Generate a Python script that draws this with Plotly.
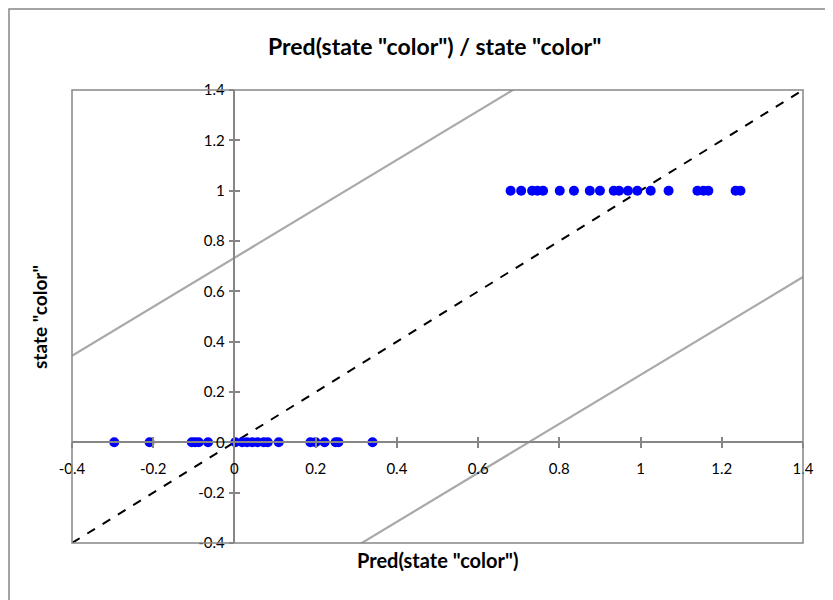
import plotly.graph_objects as go

# ---- data ----
pred_state0 = [-0.296, -0.209, -0.105, -0.097, -0.088, -0.065, 0.002, 0.019, 0.031,
               0.044, 0.057, 0.072, 0.082, 0.109, 0.187, 0.200, 0.222, 0.249, 0.256, 0.340]
pred_state1 = [0.680, 0.706, 0.733, 0.746, 0.760, 0.801, 0.836, 0.875, 0.900, 0.934,
               0.947, 0.969, 0.992, 1.025, 1.069, 1.140, 1.155, 1.167, 1.234, 1.246]
state_values = [0, 1]
band_slope = 0.973
band_upper_intercept = 0.733
band_lower_intercept = -0.705
axis_range = [-0.4, 1.4]
tick_vals = [-0.4, -0.2, 0, 0.2, 0.4, 0.6, 0.8, 1, 1.2, 1.4]
tick_text = ["-0.4", "-0.2", "0", "0.2", "0.4", "0.6", "0.8", "1", "1.2", "1.4"]

FONT = "Lato, 'Open Sans', sans-serif"
AXC = "#868686"

# plot area in page pixels (page has an 8px body offset)
PL, PR, PT, PB = 72, 803, 90, 543
OFF = 8
W, H = 833, 600
PW, PH = PR - PL, PB - PT

xs = pred_state0 + pred_state1
ys = [state_values[0]] * len(pred_state0) + [state_values[1]] * len(pred_state1)

fig = go.Figure()

line_x = axis_range
fig.add_trace(go.Scatter(x=line_x, y=[band_slope * v + band_upper_intercept for v in line_x],
                         mode="lines", line=dict(color="#A9A9A9", width=2.2),
                         showlegend=False, hoverinfo="skip"))
fig.add_trace(go.Scatter(x=line_x, y=[band_slope * v + band_lower_intercept for v in line_x],
                         mode="lines", line=dict(color="#A9A9A9", width=2.2),
                         showlegend=False, hoverinfo="skip"))
fig.add_trace(go.Scatter(x=line_x, y=line_x, mode="lines",
                         line=dict(color="black", width=2, dash="dash"),
                         showlegend=False, hoverinfo="skip"))
fig.add_trace(go.Scatter(x=xs, y=ys, mode="markers",
                         marker=dict(color="#0000FF", size=10),
                         showlegend=False))

xpos = (0 - axis_range[0]) / (axis_range[1] - axis_range[0])
ypos = xpos

common = dict(range=axis_range, showgrid=False, zeroline=False, tickmode="array",
              tickvals=tick_vals, ticktext=tick_text, showline=True, linecolor=AXC,
              linewidth=1.5, ticks="outside", ticklen=5, tickcolor=AXC, tickwidth=1.5,
              tickfont=dict(family=FONT, size=15, color="black"), anchor="free")

fig.update_layout(
    width=W, height=H,
    margin=dict(l=PL - OFF, r=W + OFF - PR, t=PT - OFF, b=H + OFF - PB),
    paper_bgcolor="white", plot_bgcolor="white",
    xaxis=dict(**common, position=ypos, ticklabelstandoff=8),
    yaxis=dict(**common, position=xpos, ticklabelstandoff=1),
    xaxis2=dict(range=axis_range, overlaying="x", anchor="free", position=ypos,
                showgrid=False, zeroline=False, tickmode="array", tickvals=tick_vals,
                showticklabels=False, ticks="inside", ticklen=5, tickcolor=AXC, tickwidth=1.5,
                showline=False),
    yaxis2=dict(range=axis_range, overlaying="y", anchor="free", position=xpos,
                showgrid=False, zeroline=False, tickmode="array", tickvals=tick_vals,
                showticklabels=False, ticks="inside", ticklen=5, tickcolor=AXC, tickwidth=1.5,
                showline=False),
    shapes=[
        dict(type="rect", xref="paper", yref="paper", x0=0, x1=1, y0=0, y1=1,
             line=dict(color=AXC, width=1.5), layer="above"),
        dict(type="rect", xref="paper", yref="paper", x0=(9 - PL) / PW, x1=1.2,
             y0=-0.3, y1=(PB - 9) / PH, line=dict(color=AXC, width=1.5), layer="below"),
    ],
    annotations=[
        dict(text='Pred(state "color") / state "color"', xref="paper", yref="paper",
             x=(434 - PL) / PW, y=(PB - 46) / PH, showarrow=False, yanchor="middle",
             font=dict(family=FONT, size=23, color="black", weight="bold")),
        dict(text='Pred(state "color")', xref="paper", yref="paper",
             x=(437 - PL) / PW, y=(PB - 560) / PH, showarrow=False, yanchor="middle",
             font=dict(family=FONT, size=20, color="black", weight="bold")),
        dict(text='state "color"', xref="paper", yref="paper", textangle=-90,
             x=(39 - PL) / PW, y=(PB - 317) / PH, showarrow=False, xanchor="center",
             font=dict(family=FONT, size=19, color="black", weight="bold")),
    ],
)
# dummy trace for overlay axes
fig.add_trace(go.Scatter(x=[None], y=[None], xaxis="x2", yaxis="y2", showlegend=False))

fig.write_html("out.html")
